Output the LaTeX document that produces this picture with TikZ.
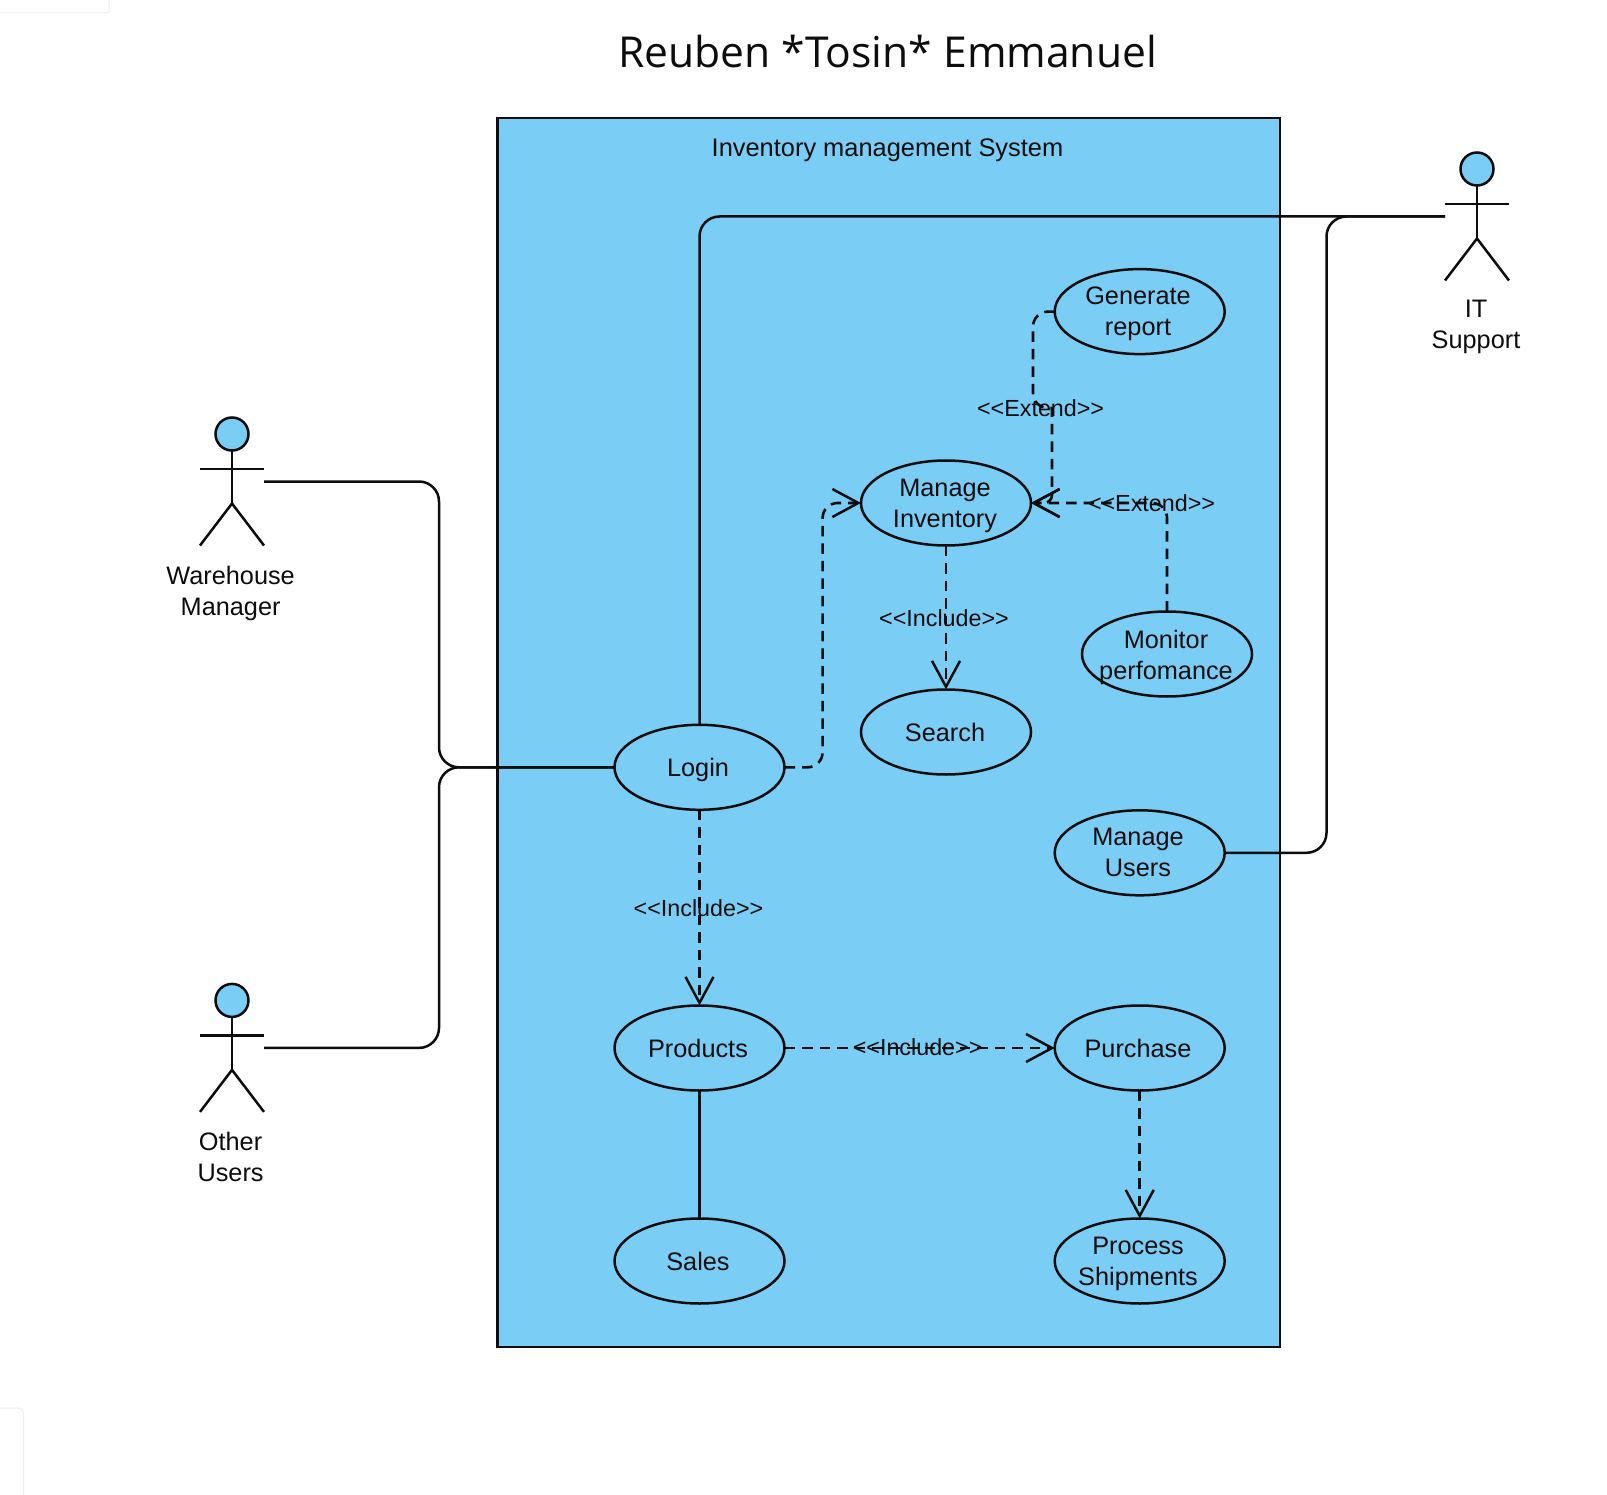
\documentclass[tikz,border=0pt]{standalone}
\usepackage{fontspec}
\setmainfont{Liberation Sans}
\newfontfamily\titlefont{Open Sans}
\usetikzlibrary{shapes.geometric,arrows.meta}
\definecolor{ucblue}{HTML}{7ACDF5}
\definecolor{ink}{HTML}{0D0D0D}
\newcommand{\stickfigure}[1]{%
  \draw[stick,fill=ucblue] ([yshift=47.5pt]#1.center) circle[radius=16.5pt];
  \draw[stick] ([yshift=31pt]#1.center) -- ([yshift=-22pt]#1.center);
  \draw[stick] ([xshift=-32pt,yshift=12.5pt]#1.center) -- ([xshift=32pt,yshift=12.5pt]#1.center);
  \draw[stick] ([xshift=-32pt,yshift=-64pt]#1.center) -- ([yshift=-22pt]#1.center) -- ([xshift=32pt,yshift=-64pt]#1.center);
}
\tikzset{
  x=1pt,y=-1pt,
  stick/.style={draw=ink,line width=2.5pt},
  actorbox/.style={minimum width=64pt,minimum height=128pt,inner sep=0pt,outer sep=0pt},
  actorname/.style={align=center,inner sep=0pt,text=ink,font=\fontsize{25.3}{31}\selectfont},
  usecase/.style={ellipse,draw=ink,line width=2.5pt,fill=ucblue,minimum width=170pt,minimum height=85pt,inner sep=0pt,outer sep=0pt},
  uctext/.style={align=center,inner sep=0pt,text=ink,font=\fontsize{25.3}{31}\selectfont},
  stereo/.style={inner sep=0pt,text=ink,font=\fontsize{23.3}{28}\selectfont},
  assoc/.style={draw=ink,line width=2.5pt,rounded corners=20pt},
  dep/.style={draw=ink,line width=2.6pt,dash pattern=on 10.5pt off 7pt,rounded corners=15pt,
    -{Straight Barb[length=26pt,width=28pt,line width=2.5pt]}},
  faint/.style={draw=black!7,line width=1pt},
}
\begin{document}
\begin{tikzpicture}
\useasboundingbox (0,0) rectangle (1607,1495);
\fill[white] (0,0) rectangle (1607,1495);
% faint page artefacts
\draw[faint,rounded corners=2pt] (0,13) -- (109,13) -- (109,0);
\draw[faint,rounded corners=6pt] (0,1408) -- (23.5,1408) -- (23.5,1495);
% title
\node[inner sep=0pt,text=ink,font=\titlefont\fontsize{42.6}{50}\selectfont] (title) at (887.5,52) {Reuben *Tosin* Emmanuel};
% system box
\node[draw=ink,line width=2.5pt,fill=ucblue,minimum width=782.5pt,minimum height=1228.5pt,inner sep=0pt,outer sep=0pt] (sys) at (888.75,732.5) {};
\node[uctext,font=\fontsize{25.4}{31}\selectfont] (systitle) at (887.5,150) {Inventory management System};
% bends
\coordinate (wmBus) at (439,620);
\coordinate (ouBus) at (439,900);
\coordinate (itBus) at (1326.5,530);
\coordinate (lmBend) at (822.6,640);
\coordinate (jogA) at (1033,408);
\coordinate (jogB) at (1052,408);
% use cases
\node[usecase] (gen) at (1139.7,311.6) {};
\node[usecase] (mi) at (946,503) {};
\node[usecase] (search) at (946,732) {};
\node[usecase] (mon) at (1167,654) {};
\node[usecase] (mu) at (1139.7,852.8) {};
\node[usecase] (purch) at (1139.7,1048) {};
\node[usecase] (ship) at (1139.7,1261) {};
\node[usecase] (login) at (699.5,767.3) {};
\node[usecase] (prod) at (699.5,1048) {};
\node[usecase] (sales) at (699.5,1261) {};
% actors
\node[actorbox] (wm) at (232,481.5) {};
\node[actorbox] (ou) at (232,1047.9) {};
\node[actorbox] (it) at (1477,216.5) {};
\stickfigure{wm}
\stickfigure{ou}
\stickfigure{it}
\node[actorname] (wmname) at (230.6,593) {Warehouse\\Manager};
\node[actorname] (ouname) at (230.6,1157) {Other\\Users};
\node[actorname] (itname) at (1476,327) {IT\\Support};
% associations
\draw[assoc] (wm.east) -| (wmBus) |- (login.west);
\draw[assoc] (ou.east) -| (ouBus) |- (login.west);
\draw[assoc] (it.west) -| (login.north);
\draw[assoc] (it.west) -| (itBus) |- (mu.east);
\draw[assoc] (prod.south) -- (sales.north);
% dependencies
\draw[dep] (login.east) -| (lmBend) |- (mi.west);
\draw[dep] (login.south) -- (prod.north);
\draw[dep] (mi.south) -- (search.north);
\draw[dep] (prod.east) -- (purch.west);
\draw[dep] (purch.south) -- (ship.north);
\draw[dep] (gen.west) -| (jogA) [sharp corners] -- (jogB) [rounded corners=8pt] |- (mi.east);
\draw[dep] (mon.north) |- (mi.east);
% stereotypes
\node[stereo] (l1) at (1040.6,408) {<{}<Extend>{}>};
\node[stereo] (l2) at (1151.5,503) {<{}<Extend>{}>};
\node[stereo] (l3) at (944,618) {<{}<Include>{}>};
\node[stereo] (l4) at (698.5,908) {<{}<Include>{}>};
\node[stereo] (l5) at (917.6,1047) {<{}<Include>{}>};
% use-case texts
\node[uctext] (gent) at (1138,314) {Generate\\report};
\node[uctext] (mit) at (945,505.5) {Manage\\Inventory};
\node[uctext] (searcht) at (945,732.5) {Search};
\node[uctext] (mont) at (1166,657) {Monitor\\perfomance};
\node[uctext] (mut) at (1138,852.3) {Manage\\Users};
\node[uctext] (purcht) at (1138,1048) {Purchase};
\node[uctext] (shipt) at (1138,1263.6) {Process\\Shipments};
\node[uctext] (logint) at (698,770) {Login};
\node[uctext] (prodt) at (698,1048) {Products};
\node[uctext] (salest) at (698,1261) {Sales};
\end{tikzpicture}
\end{document}
